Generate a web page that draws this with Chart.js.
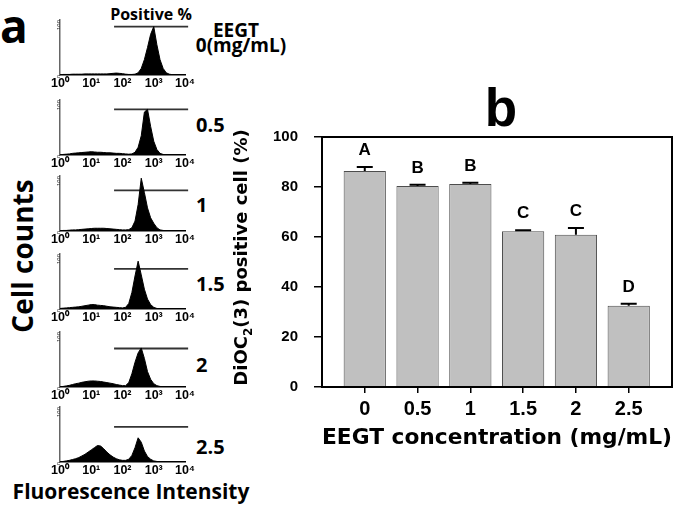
<!DOCTYPE html>
<html>
<head>
<meta charset="utf-8">
<script src="https://cdn.jsdelivr.net/npm/chart.js@4.4.1/dist/chart.umd.min.js"></script>
<style>
body { margin: 0; background: #fff; }
#fig { position: relative; width: 692px; height: 511px; overflow: hidden; background: #fff; }
canvas { position: absolute; }
.t { position: absolute; white-space: nowrap; line-height: 1; color: #000; font-family: "Open Sans", sans-serif; font-weight: 700; }
.c { transform: translateX(-50%); }
</style>
</head>
<body>
<div id="fig">
  <div class="t" style="left:0px;top:2px;font-size:46px;">a</div>
  <div class="t c" style="left:151px;top:6px;font-size:16px;">Positive %</div>
  <div class="t c" style="left:236px;top:21px;font-size:19px;">EEGT</div>
  <div class="t c" style="left:241px;top:36px;font-size:19px;">0(mg/mL)</div>
  <div class="t" style="left:196px;top:115px;font-size:20px;">0.5</div>
  <div class="t" style="left:196px;top:195px;font-size:20px;">1</div>
  <div class="t" style="left:196px;top:274px;font-size:20px;">1.5</div>
  <div class="t" style="left:196px;top:355px;font-size:20px;">2</div>
  <div class="t" style="left:196px;top:437px;font-size:20px;">2.5</div>
  <div class="t" style="left:21.5px;top:255.5px;font-size:28px;transform:translate(-50%,-50%) rotate(-90deg);">Cell counts</div>
  <div class="t c" style="left:131px;top:481px;font-size:21px;">Fluorescence Intensity</div>
  <div class="t c" style="left:501px;top:81px;font-size:53px;font-family:'Liberation Sans',Arial,sans-serif;">b</div>
</div>
<script>
// ---- panel a : flow cytometry histograms (x in decades, log10 of intensity) ----
const logBins = [0.0,0.1,0.2,0.3,0.4,0.5,0.6,0.7,0.8,0.9,1.0,1.1,1.2,1.3,1.4,1.5,1.6,1.7,1.8,1.9,2.0,
                 2.1,2.2,2.3,2.4,2.5,2.6,2.7,2.8,2.9,3.0,3.1,3.2,3.3,3.4,3.5,3.6,3.7,3.8,3.9,4.0];
const counts0   = [0.5,1,1,1,1.5,1.5,1.5,1.5,2,2,2,2,2,2,2,2,2.5,3,3.5,3,2.5,1.5,1,1,1.5,4,12,28,50,74,88,55,28,12,4,1.5,0.5,0,0,0,0];
const counts0_5 = [0.5,1,1.5,2,3,3.5,4,4.5,5,5.5,6,5.5,5,5,4.5,4,4,3.5,3,3,2.5,2,1.5,2,5,14,35,78,83,52,25,10,3,1,0.5,0,0,0,0,0,0];
const counts1   = [0.5,1,1,1.5,2,2,2.5,3,3.5,4,4.5,5,5,5,5,4.5,4,3.5,3,2.5,2,2,2.5,6,18,48,96,70,42,24,14,6,2,1,0.5,0,0,0,0,0,0];
const counts1_5 = [1,1.5,2,2.5,3,3.5,4,5,6,7,8,8,7,6.5,6,5,4,3.5,3,2.5,2,3,10,30,60,87,62,36,18,8,3,1,0.5,0,0,0,0,0,0,0,0];
const counts2   = [0.5,1,2,3,4.5,6,7,8.5,9.5,10.5,11,11,10.5,10,9,8,7,6,4.5,3.5,2.5,2.5,8,24,45,62,71,52,28,14,6,2.5,1,0.5,0,0,0,0,0,0,0];
const counts2_5 = [0.5,1,2,3,4.5,6,8,11,14,18,22,26,30,29,24,18,13,9,6,4,3,3,5,12,26,44,36,20,10,5,2,1,0.5,0,0,0,0,0,0,0,0];
const gateLevels = [88, 83, 74, 73, 70, 64];
const gateRange = [1.73, 4.1];
const decadeLabels = ['10\u2070', '10\u00b9', '10\u00b2', '10\u00b3', '10\u2074'];

// ---- panel b : bar chart ----
const concs = ['0', '0.5', '1', '1.5', '2', '2.5'];
const positive = [86.4, 80.4, 81.2, 62.3, 60.9, 32.5];
const errors = [1.6, 0.5, 0.5, 0.4, 2.7, 0.8];
const groups = ['A', 'B', 'B', 'C', 'C', 'D'];
const yTicks = [0, 20, 40, 60, 80, 100];

const histSeries = [counts0, counts0_5, counts1, counts1_5, counts2, counts2_5];
const histBottoms = [75, 155, 231, 309, 387, 462];
const fig = document.getElementById('fig');

function noPad(s) { s.paddingLeft = 0; s.paddingRight = 0; s.paddingTop = 0; s.paddingBottom = 0; }

histSeries.forEach((counts, k) => {
    const cv = document.createElement('canvas');
    cv.width = 180; cv.height = 80;
    cv.style.left = '20px';
    cv.style.top = (histBottoms[k] - 60) + 'px';
    fig.appendChild(cv);
    new Chart(cv, {
        type: 'line',
        data: {
            datasets: [{
                data: logBins.map((b, j) => ({ x: b, y: counts[j] })),
                borderColor: '#000',
                backgroundColor: '#000',
                borderWidth: 1,
                fill: 'origin',
                pointRadius: 0,
                tension: 0
            }, {
                data: [{ x: gateRange[0], y: gateLevels[k] }, { x: gateRange[1], y: gateLevels[k] }],
                borderColor: '#333',
                borderWidth: 1.8,
                pointRadius: 0,
                fill: false,
                clip: false
            }]
        },
        options: {
            responsive: false,
            animation: false,
            devicePixelRatio: 1,
            layout: { padding: { top: 5, right: 15, left: 0, bottom: 0 } },
            plugins: { legend: { display: false }, tooltip: { enabled: false } },
            scales: {
                x: {
                    type: 'linear', min: 0, max: 4,
                    afterBuildTicks: s => { s.ticks = [0, 1, 2, 3, 4].map(v => ({ value: v })); },
                    afterFit: s => { s.height = 20; noPad(s); },
                    grid: { display: false, drawTicks: false },
                    border: { display: true, color: '#000', width: 1.5 },
                    ticks: {
                        padding: 1, color: '#000', maxRotation: 0,
                        font: { family: "'Liberation Sans', Arial, sans-serif", size: 12.5, weight: 'bold' },
                        callback: v => decadeLabels[v]
                    }
                },
                y: {
                    min: 0, max: 100,
                    afterBuildTicks: s => { s.ticks = [{ value: 0 }, { value: 100 }]; },
                    afterFit: s => { s.width = 40; noPad(s); },
                    grid: { display: false, drawTicks: false },
                    border: { display: true, color: '#666', width: 1.5 },
                    ticks: {
                        padding: 1, color: '#333', minRotation: 90, maxRotation: 90,
                        font: { family: "'Liberation Sans', Arial, sans-serif", size: 6 }
                    }
                }
            }
        }
    });
});

// bar chart
const barCanvas = document.createElement('canvas');
barCanvas.width = 462; barCanvas.height = 370;
barCanvas.style.left = '230px'; barCanvas.style.top = '90px';
fig.appendChild(barCanvas);

const boxAndErrors = {
    id: 'boxAndErrors',
    afterDatasetsDraw(chart) {
        const ctx = chart.ctx, y = chart.scales.y;
        chart.getDatasetMeta(0).data.forEach((bar, i) => {
            const top = y.getPixelForValue(positive[i] + errors[i]);
            ctx.save();
            ctx.strokeStyle = '#000';
            ctx.lineWidth = 2;
            ctx.beginPath();
            ctx.moveTo(bar.x, bar.y); ctx.lineTo(bar.x, top);
            ctx.moveTo(bar.x - 8, top); ctx.lineTo(bar.x + 8, top);
            ctx.stroke();
            ctx.fillStyle = '#000';
            ctx.font = "bold 17px 'Liberation Sans', Arial, sans-serif";
            ctx.textAlign = 'center';
            ctx.textBaseline = 'alphabetic';
            ctx.fillText(groups[i], bar.x, top - 12);
            ctx.restore();
        });
    },
    afterDraw(chart) {
        const ctx = chart.ctx, a = chart.chartArea;
        ctx.save();
        ctx.strokeStyle = '#000';
        ctx.lineWidth = 2;
        ctx.strokeRect(a.left, a.top, a.right - a.left, a.bottom - a.top);
        // y title with subscript
        const big = "bold 18px 'DejaVu Sans', sans-serif";
        const small = "bold 12px 'DejaVu Sans', sans-serif";
        const p1 = 'DiOC', p2 = '2', p3 = '(3) positive cell (%)';
        ctx.font = big; const w1 = ctx.measureText(p1).width, w3 = ctx.measureText(p3).width;
        ctx.font = small; const w2 = ctx.measureText(p2).width;
        const total = w1 + w2 + w3;
        ctx.translate(17, 167.5);
        ctx.rotate(-Math.PI / 2);
        ctx.fillStyle = '#000';
        ctx.textBaseline = 'alphabetic';
        ctx.textAlign = 'left';
        let x = -total / 2;
        ctx.font = big; ctx.fillText(p1, x, 0); x += w1;
        ctx.font = small; ctx.fillText(p2, x, 5); x += w2;
        ctx.font = big; ctx.fillText(p3, x, 0);
        ctx.restore();
    }
};

new Chart(barCanvas, {
    type: 'bar',
    data: {
        datasets: [{
            data: concs.map((c, i) => ({ x: i, y: positive[i] })),
            backgroundColor: '#c0c0c0',
            borderColor: '#4d4d4d',
            borderWidth: 1,
            barPercentage: 0.8,
            categoryPercentage: 1
        }]
    },
    options: {
        responsive: false,
        animation: false,
        devicePixelRatio: 1,
        layout: { padding: { top: 47, right: 20, left: 0, bottom: 0 } },
        plugins: { legend: { display: false }, tooltip: { enabled: false } },
        scales: {
            x: {
                type: 'linear', min: -0.81, max: 5.82, offset: false,
                afterBuildTicks: s => { s.ticks = concs.map((c, i) => ({ value: i })); },
                afterFit: s => { s.height = 73; noPad(s); },
                grid: { drawOnChartArea: false, offset: false, tickLength: 6, color: '#000', lineWidth: 1.5 },
                border: { display: true, color: '#000', width: 2 },
                ticks: {
                    padding: 4, color: '#000', maxRotation: 0,
                    font: { family: "'Liberation Sans', Arial, sans-serif", size: 20, weight: 'bold' },
                    callback: v => concs[v]
                },
                title: {
                    display: true,
                    text: 'EEGT concentration (mg/mL)',
                    color: '#000',
                    padding: { top: 0, bottom: 9 },
                    font: { family: "'DejaVu Sans', sans-serif", size: 22, weight: 'bold' }
                }
            },
            y: {
                min: 0, max: 100,
                afterBuildTicks: s => { s.ticks = yTicks.map(v => ({ value: v })); },
                afterFit: s => { s.width = 92; noPad(s); },
                grid: { drawOnChartArea: false, tickLength: 8, color: '#000', lineWidth: 1.5 },
                border: { display: true, color: '#000', width: 2 },
                ticks: {
                    padding: 16, color: '#000',
                    font: { family: "'Liberation Sans', Arial, sans-serif", size: 15, weight: 'bold' }
                }
            }
        }
    },
    plugins: [boxAndErrors]
});
</script>
</body>
</html>
